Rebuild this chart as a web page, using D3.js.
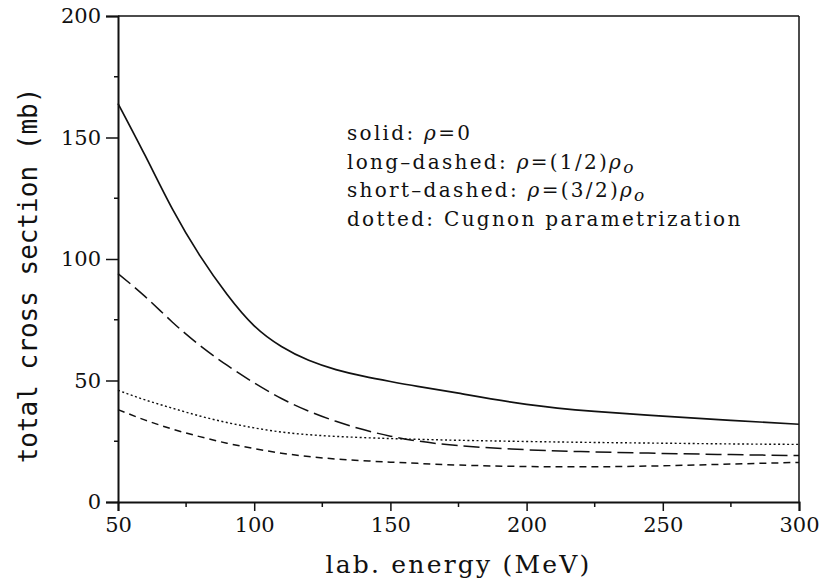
<!DOCTYPE html>
<html>
<head>
<meta charset="utf-8">
<script src="https://cdn.jsdelivr.net/npm/d3@7"></script>
<style>
  html, body { margin: 0; padding: 0; background: #fff; }
  svg { display: block; }
</style>
</head>
<body>
<svg id="chart" width="824" height="586"></svg>
<script>
// Lab energy grid (MeV) and total cross sections (mb) for each in-medium density
const energy     = [50, 60, 70, 80, 90, 100, 110, 120, 130, 140, 150, 160, 175, 200, 225, 250, 275, 300];
const solidRho0  = [164, 142.5, 120.5, 101.5, 85.5, 72.5, 64, 58.3, 54.5, 51.8, 49.6, 47.6, 44.8, 40.2, 37.3, 35.3, 33.6, 32];
const longHalf   = [94, 84.5, 74, 64.5, 56.3, 49, 42.6, 37.4, 33.2, 29.8, 27.1, 25.1, 23.2, 21.5, 20.6, 20, 19.5, 19.1];
const shortThree = [38, 33.7, 30, 26.9, 24.2, 22, 20.1, 18.7, 17.7, 17, 16.4, 15.9, 15.2, 14.6, 14.5, 14.9, 15.6, 16.3];
const cugnon     = [46, 42, 38.6, 35.4, 32.7, 30.5, 28.8, 27.7, 27, 26.5, 26.1, 25.8, 25.4, 24.9, 24.5, 24.2, 23.9, 23.7];

const xTicks = [50, 100, 150, 200, 250, 300];
const xMinor = [75, 125, 175, 225, 275];
const yTicks = [0, 50, 100, 150, 200];
const yMinor = [25, 75, 125, 175];

const svg = d3.select("#chart");
const margin = { left: 118, right: 25, top: 16, bottom: 84 };
const W = 824, H = 586;
const x = d3.scaleLinear().domain([50, 300]).range([margin.left, W - margin.right]);
const y = d3.scaleLinear().domain([0, 200]).range([H - margin.bottom, margin.top]);

const serif = "'DejaVu Serif', serif";
const ink = "#111";

// curves
const series = [
  { v: solidRho0,  dash: null,   w: 1.7 },
  { v: longHalf,   dash: "16,6", w: 1.5 },
  { v: shortThree, dash: "7,5",  w: 1.5 },
  { v: cugnon,     dash: "2,2.5", w: 1.4 }
];
const line = d3.line()
  .x((d, i) => x(energy[i]))
  .y(d => y(d))
  .curve(d3.curveNatural);
svg.append("g").selectAll("path").data(series).join("path")
  .attr("d", s => line(s.v))
  .attr("fill", "none")
  .attr("stroke", ink)
  .attr("stroke-width", s => s.w)
  .attr("stroke-dasharray", s => s.dash);

// frame: heavier left/bottom axes, lighter top/right
const x0 = x(50), x1 = x(300), y0 = y(0), y1 = y(200);
svg.append("line").attr("x1", x0).attr("x2", x1).attr("y1", y1).attr("y2", y1)
  .attr("stroke", ink).attr("stroke-width", 1.5);
svg.append("line").attr("x1", x1).attr("x2", x1).attr("y1", y1).attr("y2", y0)
  .attr("stroke", ink).attr("stroke-width", 1.5);

// bottom axis
const xAxis = d3.axisBottom(x).tickValues(xTicks).tickSize(9).tickPadding(6).tickFormat(d3.format("d"));
const gx = svg.append("g").attr("transform", `translate(0,${y0})`).call(xAxis);
gx.select(".domain").attr("stroke", ink).attr("stroke-width", 2);
gx.selectAll(".tick line").attr("stroke", ink).attr("stroke-width", 1.5);
gx.selectAll(".tick text").attr("font-family", serif).attr("font-size", 21).attr("fill", ink);
gx.selectAll(".minor").data(xMinor).join("line").attr("class", "minor")
  .attr("x1", d => x(d)).attr("x2", d => x(d)).attr("y1", 0).attr("y2", 5)
  .attr("stroke", ink).attr("stroke-width", 1.5);

// left axis
const yAxis = d3.axisLeft(y).tickValues(yTicks).tickSize(12).tickPadding(5).tickFormat(d3.format("d"));
const gy = svg.append("g").attr("transform", `translate(${x0},0)`).call(yAxis);
gy.select(".domain").attr("stroke", ink).attr("stroke-width", 2);
gy.selectAll(".tick line").attr("stroke", ink).attr("stroke-width", 1.5);
gy.selectAll(".tick text").attr("font-family", serif).attr("font-size", 21).attr("fill", ink);
gy.selectAll(".minor").data(yMinor).join("line").attr("class", "minor")
  .attr("x1", 0).attr("x2", -4).attr("y1", d => y(d)).attr("y2", d => y(d))
  .attr("stroke", ink).attr("stroke-width", 1.5);

// axis titles
svg.append("text")
  .attr("x", (x0 + x1) / 2).attr("y", 573)
  .attr("text-anchor", "middle")
  .attr("font-family", serif).attr("font-size", 25).attr("letter-spacing", 2.2)
  .attr("fill", ink)
  .text("lab. energy (MeV)");

svg.append("text")
  .attr("transform", `translate(37,${(77 + 474) / 2}) rotate(-90)`)
  .attr("text-anchor", "middle")
  .attr("font-family", "'DejaVu Sans Mono', monospace").attr("font-size", 26)
  .attr("fill", ink)
  .text("total cross section (mb)");

// key text
const keyLines = [
  [["solid: "], ["ρ", "i"], ["=0"]],
  [["long\u2013dashed: "], ["ρ", "i"], ["=(1/2)"], ["ρ", "i"], ["o", "sub"]],
  [["short\u2013dashed: "], ["ρ", "i"], ["=(3/2)"], ["ρ", "i"], ["o", "sub"]],
  [["dotted: Cugnon parametrization"]]
];
const key = svg.append("g").attr("font-family", serif).attr("font-size", 20)
  .attr("letter-spacing", 2.3).attr("fill", ink);
keyLines.forEach((parts, i) => {
  const t = key.append("text").attr("x", 347).attr("y", 140 + i * 28.6);
  parts.forEach(([s, kind]) => {
    const ts = t.append("tspan").text(s);
    if (kind === "i" || kind === "sub") ts.attr("font-style", "italic");
    if (kind === "sub") ts.attr("baseline-shift", "-25%").attr("font-size", 17);
  });
});
</script>
</body>
</html>
